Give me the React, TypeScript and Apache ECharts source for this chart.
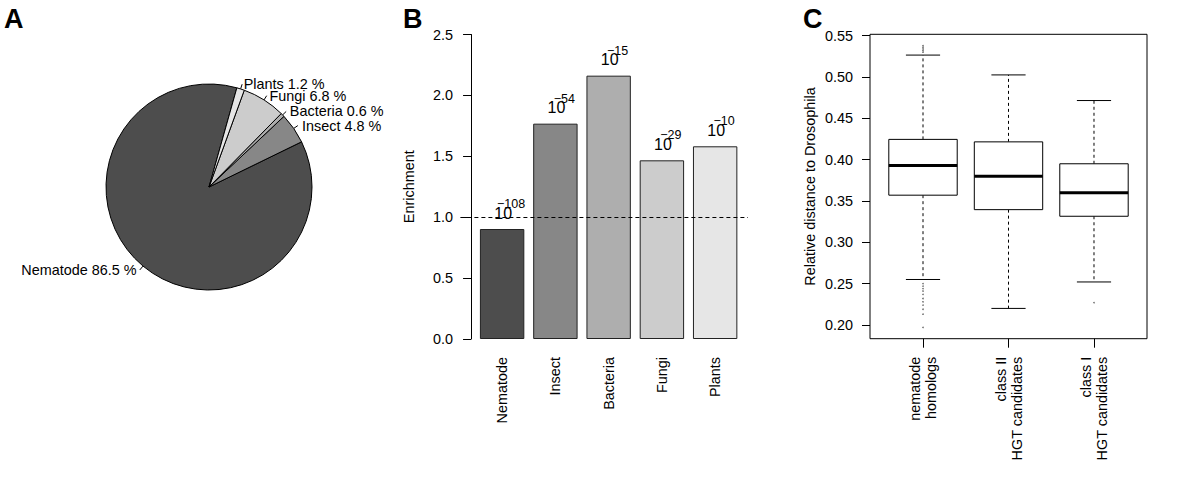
import { useEffect, useRef } from "react";
import * as echarts from "echarts";

const FONT = "'Liberation Sans', Arial, Helvetica, sans-serif";
const FS = 14.4;

// ---------- Panel A : pie ----------
const pieNames = ["Nematode", "Insect", "Bacteria", "Fungi", "Plants"];
const pieValues = [86.5, 4.8, 0.6, 6.8, 1.2];
const greys = ["#4D4D4D", "#878787", "#AEAEAE", "#CCCCCC", "#E6E6E6"];

// ---------- Panel B : bars ----------
const barNames = ["Nematode", "Insect", "Bacteria", "Fungi", "Plants"];
const enrichment = [0.903, 1.768, 2.162, 1.467, 1.582];
const pExponents = ["108", "54", "15", "29", "10"];
const enrichmentTicks = [0, 0.5, 1, 1.5, 2, 2.5];
const baseline = 1;

// ---------- Panel C : box plot ----------
const boxNames = ["nematode\nhomologs", "class II\nHGT candidates", "class I\nHGT candidates"];
const boxLow = [0.255, 0.22, 0.252];
const boxQ1 = [0.357, 0.3395, 0.3315];
const boxMedian = [0.393, 0.38, 0.36];
const boxQ3 = [0.4245, 0.4215, 0.395];
const boxHigh = [0.5265, 0.5025, 0.4715];
const outlierGroup = [1, 1, 1, 1, 1, 1, 1, 1, 1, 1, 1, 1, 1, 1, 1, 1, 3];
const outlierValue = [
  0.53, 0.532, 0.534, 0.536, 0.538,
  0.25, 0.247, 0.244, 0.241, 0.237, 0.232, 0.228, 0.224, 0.219, 0.213, 0.197,
  0.227,
];
const distanceTicks = [0.2, 0.25, 0.3, 0.35, 0.4, 0.45, 0.5, 0.55];

// ---------- derived layout helpers ----------
const PIE_R = 103;
const PIE_START = 74.3;
const pieTotal = pieValues.reduce((a, b) => a + b, 0);
// R places pie labels at 1.1 r; ECharts puts them at the label-line end (1.05 r): pad the difference
const pieLabelPads = (() => {
  let acc = PIE_START;
  return pieValues.map((v) => {
    const span = (v / pieTotal) * 360;
    const mid = ((acc + span / 2) * Math.PI) / 180;
    acc += span;
    const dx = 0.05 * PIE_R * Math.cos(mid);
    const dy = -0.05 * PIE_R * Math.sin(mid);
    const padTop = dy > 0 ? 2 * dy : 0;
    const padBottom = dy < 0 ? -2 * dy : 0;
    return dx >= 0 ? [padTop, 0, padBottom, dx] : [padTop, -dx, padBottom, 0];
  });
})();

const barPos = barNames.map((_, i) => 0.7 + 1.2 * i); // R barplot: width 1, space 0.2
const barXMin = -0.04 * 6;
const barXMax = 6 + 0.04 * 6;

const boxPos = boxNames.map((_, i) => i + 1);
const boxXMin = 0.5 - 0.04 * boxNames.length;
const boxXMax = boxNames.length + 0.5 + 0.04 * boxNames.length;
const allBoxVals = [...boxLow, ...boxHigh, ...outlierValue];
const dMin = Math.min(...allBoxVals);
const dMax = Math.max(...allBoxVals);
const boxYMin = dMin - 0.04 * (dMax - dMin);
const boxYMax = dMax + 0.04 * (dMax - dMin);

function nearestName(names: string[], pos: number[], v: number) {
  let best = 0;
  pos.forEach((p, i) => {
    if (Math.abs(p - v) < Math.abs(pos[best] - v)) best = i;
  });
  return names[best];
}

export default function App() {
  const ref = useRef<HTMLDivElement>(null);

  useEffect(() => {
    const chart = echarts.init(ref.current!, null, { renderer: "svg" });

    const option: any = {
      animation: false,
      backgroundColor: "#fff",
      textStyle: { fontFamily: FONT, color: "#000" },
      graphic: [
        { type: "text", left: 4, top: 5, style: { text: "A", fontSize: 27, fontWeight: "bold", fontFamily: FONT, fill: "#000" } },
        { type: "text", left: 403, top: 5, style: { text: "B", fontSize: 27, fontWeight: "bold", fontFamily: FONT, fill: "#000" } },
        { type: "text", left: 803, top: 5, style: { text: "C", fontSize: 27, fontWeight: "bold", fontFamily: FONT, fill: "#000" } },
      ],
      grid: [
        { left: 460.4, width: 287.6, top: 34.5, height: 304.5, containLabel: false, outerBoundsMode: "none" },
        {
          left: 870, width: 277, top: 34.3, height: 304.4, containLabel: false, outerBoundsMode: "none",
          show: true, borderColor: "#000", borderWidth: 1, backgroundColor: "transparent",
        },
      ],
      xAxis: [
        {
          gridIndex: 0, type: "value", min: barXMin, max: barXMax,
          axisLine: { show: false }, axisTick: { show: false }, splitLine: { show: false },
          axisLabel: {
            customValues: barPos, rotate: 90, margin: 18, fontSize: FS, color: "#000", fontFamily: FONT,
            formatter: (v: number) => nearestName(barNames, barPos, v),
          },
        },
        {
          gridIndex: 1, type: "value", min: boxXMin, max: boxXMax,
          axisLine: { show: false }, splitLine: { show: false },
          axisTick: { show: true, customValues: boxPos, length: 9, lineStyle: { color: "#000", width: 1 } },
          axisLabel: {
            customValues: boxPos, rotate: 90, margin: 18, fontSize: FS, lineHeight: 16, color: "#000", fontFamily: FONT,
            padding: [8, 0, 0, 0],
            formatter: (v: number) => nearestName(boxNames, boxPos, v),
          },
        },
      ],
      yAxis: [
        {
          gridIndex: 0, type: "value", min: enrichmentTicks[0], max: enrichmentTicks[enrichmentTicks.length - 1], interval: 0.5,
          axisLine: { show: true, onZero: true, lineStyle: { color: "#000", width: 1 } },
          axisTick: { show: true, length: 8, lineStyle: { color: "#000", width: 1 } },
          splitLine: { show: false },
          axisLabel: { margin: 7.5, fontSize: FS, color: "#000", fontFamily: FONT, formatter: (v: number) => v.toFixed(1) },
          name: "Enrichment", nameLocation: "middle", nameRotate: 90, nameGap: 44,
          nameTextStyle: { fontSize: FS, color: "#000", fontFamily: FONT },
        },
        {
          gridIndex: 1, type: "value", min: boxYMin, max: boxYMax,
          axisLine: { show: false }, splitLine: { show: false },
          axisTick: { show: true, customValues: distanceTicks, length: 8, lineStyle: { color: "#000", width: 1 } },
          axisLabel: {
            customValues: distanceTicks, margin: 17, fontSize: FS, color: "#000", fontFamily: FONT,
            formatter: (v: number) => v.toFixed(2),
          },
          name: "Relative distance to Drosophila", nameLocation: "middle", nameRotate: 90, nameGap: 53,
          nameTextStyle: { fontSize: FS, color: "#000", fontFamily: FONT },
        },
      ],
      series: [
        {
          type: "pie",
          center: [209, 187],
          radius: PIE_R,
          startAngle: PIE_START,
          clockwise: false,
          avoidLabelOverlap: false,
          minShowLabelAngle: 0,
          labelLayout: { hideOverlap: false },
          silent: true,
          itemStyle: { borderColor: "#000", borderWidth: 1 },
          label: {
            show: true, position: "outside", fontSize: FS, color: "#000", fontFamily: FONT,
            distanceToLabelLine: 0,
            formatter: (p: any) => `${p.name} ${p.value} %`,
          },
          labelLine: { show: true, length: 5, length2: 0, lineStyle: { color: "#000", width: 1 } },
          data: pieNames.map((n, i) => ({
            name: n,
            value: pieValues[i],
            itemStyle: { color: greys[i] },
            label: { padding: pieLabelPads[i] },
          })),
        },
        {
          type: "bar",
          name: "enrichment",
          xAxisIndex: 0, yAxisIndex: 0,
          barWidth: 44.4,
          barGap: "-100%",
          silent: true,
          itemStyle: { borderColor: "#222", borderWidth: 1 },
          data: enrichment.map((v, i) => ({ value: [barPos[i], v], itemStyle: { color: greys[i] } })),
          label: {
            show: true, position: "top", distance: 8, offset: [1, 0],
            formatter: () => "10",
            fontSize: 16, color: "#000", fontFamily: FONT,
          },
          markLine: {
            silent: true, symbol: ["none", "none"],
            label: { show: false },
            lineStyle: { color: "#000", width: 1, type: [4, 3] },
            data: [{ yAxis: baseline }],
          },
        },
        {
          // invisible twin carrying the p-value exponents (superscripts)
          type: "bar",
          name: "exponent",
          xAxisIndex: 0, yAxisIndex: 0,
          barWidth: 44.4,
          barGap: "-100%",
          silent: true,
          z: 3,
          itemStyle: { color: "transparent", borderWidth: 0 },
          data: enrichment.map((v, i) => ({ value: [barPos[i], v] })),
          label: {
            show: true, position: "top", distance: 18.5, offset: [9, 0],
            formatter: (p: any) => `\u2212${pExponents[p.dataIndex]}`,
            fontSize: 12.5, color: "#000", fontFamily: FONT,
          },
        },
        {
          type: "custom",
          xAxisIndex: 1, yAxisIndex: 1,
          silent: true,
          encode: { x: 0, y: [1, 2, 3, 4, 5] },
          data: boxNames.map((_, i) => [boxPos[i], boxLow[i], boxQ1[i], boxMedian[i], boxQ3[i], boxHigh[i]]),
          renderItem: (params: any, api: any) => {
            const x = api.value(0);
            const lo = api.coord([x, api.value(1)]);
            const q1 = api.coord([x, api.value(2)]);
            const md = api.coord([x, api.value(3)]);
            const q3 = api.coord([x, api.value(4)]);
            const hi = api.coord([x, api.value(5)]);
            const halfBox = api.size([0.4, 0])[0];
            const halfCap = api.size([0.2, 0])[0];
            const cx = lo[0];
            const solid = { stroke: "#000", lineWidth: 1 };
            const dashed = { stroke: "#000", lineWidth: 1, lineDash: [3, 3] };
            return {
              type: "group",
              children: [
                { type: "line", shape: { x1: cx, y1: q3[1], x2: cx, y2: hi[1] }, style: dashed },
                { type: "line", shape: { x1: cx, y1: q1[1], x2: cx, y2: lo[1] }, style: dashed },
                { type: "line", shape: { x1: cx - halfCap, y1: hi[1], x2: cx + halfCap, y2: hi[1] }, style: solid },
                { type: "line", shape: { x1: cx - halfCap, y1: lo[1], x2: cx + halfCap, y2: lo[1] }, style: solid },
                {
                  type: "rect",
                  shape: { x: cx - halfBox, y: q3[1], width: 2 * halfBox, height: q1[1] - q3[1] },
                  style: { fill: "#fff", stroke: "#000", lineWidth: 1 },
                },
                { type: "line", shape: { x1: cx - halfBox, y1: md[1], x2: cx + halfBox, y2: md[1] }, style: { stroke: "#000", lineWidth: 3 } },
              ],
            };
          },
        },
        {
          type: "scatter",
          xAxisIndex: 1, yAxisIndex: 1,
          silent: true,
          symbol: "circle",
          symbolSize: 1.6,
          itemStyle: { color: "#444" },
          data: outlierValue.map((v, i) => [outlierGroup[i], v]),
        },
      ],
    };

    chart.setOption(option);
    return () => chart.dispose();
  }, []);

  return (
    <div
      ref={ref}
      style={{ position: "fixed", left: 0, top: 0, width: 1200, height: 480, background: "#fff" }}
    />
  );
}
